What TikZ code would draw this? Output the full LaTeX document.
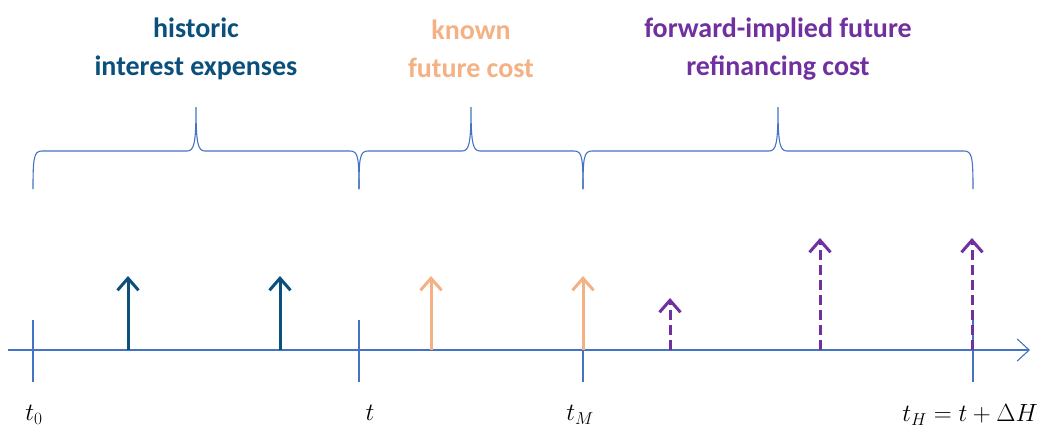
\documentclass[tikz,border=0pt]{standalone}
\usepackage{fontspec}
\newfontfamily\labfont{Carlito}
\usetikzlibrary{arrows.meta}
\definecolor{axisblue}{HTML}{4472C4}
\definecolor{histblue}{HTML}{0B4F7C}
\definecolor{knownorange}{HTML}{F4B183}
\definecolor{fwdpurple}{HTML}{7030A0}
\tikzset{
  axisline/.style={axisblue, line width=1.1pt},
  tickline/.style={axisblue, line width=1.1pt},
  bracepath/.style={axisblue, line width=1.1pt},
  cashflow/.style={line width=3pt, -{Straight Barb[length=12pt,width=21pt,line width=3pt]}},
  histflow/.style={cashflow, histblue},
  knownflow/.style={cashflow, knownorange},
  fwdflow/.style={cashflow, fwdpurple, dash pattern=on 10pt off 5pt},
  headtext/.style={font=\labfont\bfseries\fontsize{28}{37.5}\selectfont, align=center},
  timelabel/.style={font=\fontsize{26}{30}\selectfont, inner sep=0pt}
}
\begin{document}
\begin{tikzpicture}[x=1pt,y=-1pt]
\useasboundingbox (0,0) rectangle (1056,437);
% axis
\coordinate (axL) at (8,350);
\coordinate (axR) at (1030,350);
\draw[axisline, -{Straight Barb[length=12pt,width=22pt,line width=1.1pt]}] (axL) -- (axR);
% ticks
\foreach \n/\x in {t0/33, t/359, tM/583, tH/973}{
  \coordinate (\n top) at (\x,320);
  \coordinate (\n bot) at (\x,382);
  \draw[tickline] (\n top) -- (\n bot);
}
% time labels
\node[timelabel] (lt0) at (34,415) {$t_0$};
\node[timelabel] (lt) at (370,413) {$t$};
\node[timelabel] (ltM) at (580,415) {$t_M$};
\node[timelabel] (ltH) at (970,415) {$t_H = t + \Delta H$};
% cash flow arrows
\foreach \n/\x/\top/\sty in {a1/128/276/histflow, a2/280/276/histflow, a3/431/276/knownflow, a4/583/276/knownflow, a5/670/298/fwdflow, a6/820/238/fwdflow, a7/972/238/fwdflow}{
  \coordinate (\n b) at (\x,350);
  \coordinate (\n t) at (\x,\top);
  \draw[\sty] (\n b) -- (\n t);
}
% braces
\foreach \xa/\xb/\n in {33/359/b1, 359/583/b2, 583/973/b3}{
  \pgfmathsetmacro{\xc}{(\xa+\xb)/2}
  \coordinate (\n tip) at (\xc,107);
  \draw[bracepath] (\xa,189) .. controls (\xa,157) and (\xa+1,151) .. (\xa+9,151)
    -- (\xc-9,151) .. controls (\xc-2,151) and (\xc,144) .. (\n tip)
    .. controls (\xc,144) and (\xc+2,151) .. (\xc+9,151)
    -- (\xb-9,151) .. controls (\xb-1,151) and (\xb,157) .. (\xb,189);
}
% headings
\node[headtext, text=histblue] (h1) at (196,49) {historic\\interest expenses};
\node[headtext, text=knownorange] (h2) at (471,49) {known\\future cost};
\node[headtext, text=fwdpurple] (h3) at (778,49) {forward-implied future\\refinancing cost};
\end{tikzpicture}
\end{document}
